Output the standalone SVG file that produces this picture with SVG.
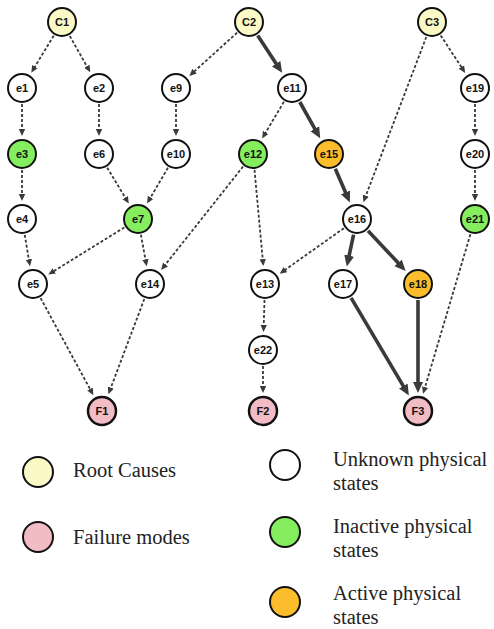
<svg xmlns="http://www.w3.org/2000/svg" width="494" height="629" viewBox="0 0 494 629">
<style>
.n circle{stroke:#111;stroke-width:2}
.n text{font-family:"Liberation Sans",Arial,sans-serif;font-weight:bold;font-size:11px;fill:#111;text-anchor:middle}
.root{fill:#fbf9c6}
.fail{fill:#f2bcc4}
.unk{fill:#fff}
.ina{fill:#85ee5e}
.act{fill:#fbbd2c}
.d{stroke:#3a3a3a;stroke-width:1.8;stroke-dasharray:3 2;fill:none;marker-end:url(#ad)}
.t{stroke:#3a3a3a;stroke-width:3.6;fill:none;marker-end:url(#at)}
.lg{font-family:"Liberation Serif","Times New Roman",serif;font-size:20.5px;fill:#222}
.lc{stroke:#111;stroke-width:2}
</style>
<defs>
<marker id="ad" markerUnits="userSpaceOnUse" markerWidth="10" markerHeight="10" viewBox="0 -5 10 10" refX="1" refY="0" orient="auto">
<path d="M0,-3.2 L7,0 L0,3.2 z" fill="#3a3a3a"/>
</marker>
<marker id="at" markerUnits="userSpaceOnUse" markerWidth="14" markerHeight="14" viewBox="0 -7 14 14" refX="1" refY="0" orient="auto">
<path d="M0,-5 L11,0 L0,5 z" fill="#3a3a3a"/>
</marker>
</defs>
<g id="connectors">
<line class="d" x1="53.7" y1="35.7" x2="34.4" y2="67.5"/>
<line class="d" x1="69.8" y1="36.0" x2="87.3" y2="67.1"/>
<line class="d" x1="237.1" y1="32.7" x2="193.8" y2="71.9"/>
<line class="t" x1="257.7" y1="35.4" x2="276.7" y2="64.5"/>
<line class="d" x1="426.3" y1="37.0" x2="365.5" y2="196.6"/>
<line class="d" x1="440.7" y1="35.4" x2="461.9" y2="67.9"/>
<line class="d" x1="22" y1="104" x2="22" y2="130"/>
<line class="d" x1="99" y1="104" x2="99" y2="130"/>
<line class="d" x1="176" y1="104" x2="176" y2="130"/>
<line class="d" x1="283.9" y1="101.8" x2="265.2" y2="133.3"/>
<line class="t" x1="299.8" y1="102.0" x2="315.3" y2="129.6"/>
<line class="d" x1="475" y1="104" x2="475" y2="130"/>
<line class="d" x1="22" y1="170" x2="22" y2="195"/>
<line class="d" x1="107.2" y1="167.7" x2="125.7" y2="198.4"/>
<line class="d" x1="167.9" y1="167.8" x2="150.1" y2="198.3"/>
<line class="d" x1="243.1" y1="166.5" x2="164.9" y2="265.2"/>
<line class="d" x1="254.5" y1="169.9" x2="262.8" y2="260.1"/>
<line class="t" x1="335.3" y1="168.7" x2="345.9" y2="193.3"/>
<line class="d" x1="475" y1="170" x2="475" y2="195"/>
<line class="d" x1="24.7" y1="234.8" x2="29.0" y2="260.3"/>
<line class="d" x1="124.4" y1="227.4" x2="53.4" y2="271.4"/>
<line class="d" x1="140.9" y1="234.7" x2="145.6" y2="260.4"/>
<line class="d" x1="343.9" y1="228.2" x2="284.6" y2="270.2"/>
<line class="t" x1="353.6" y1="234.6" x2="348.9" y2="256.6"/>
<line class="t" x1="368.0" y1="230.7" x2="398.8" y2="263.6"/>
<line class="d" x1="470.4" y1="234.3" x2="424.8" y2="388.0"/>
<line class="d" x1="40.6" y1="298.1" x2="90.5" y2="389.9"/>
<line class="d" x1="144.3" y1="299.0" x2="110.5" y2="388.6"/>
<line class="d" x1="264.5" y1="300.0" x2="263.7" y2="326.0"/>
<line class="d" x1="263" y1="366" x2="263" y2="387"/>
<line class="t" x1="351.1" y1="297.8" x2="403.8" y2="386.9"/>
<line class="t" x1="418" y1="300" x2="418" y2="383"/>
</g>
<g id="C1" class="n"><circle class="root" cx="62" cy="22" r="14"/><text x="62" y="26">C1</text></g>
<g id="C2" class="n"><circle class="root" cx="249" cy="22" r="14"/><text x="249" y="26">C2</text></g>
<g id="C3" class="n"><circle class="root" cx="432" cy="22" r="14"/><text x="432" y="26">C3</text></g>
<g id="e1" class="n"><circle class="unk" cx="22" cy="88" r="14"/><text x="22" y="92">e1</text></g>
<g id="e2" class="n"><circle class="unk" cx="99" cy="88" r="14"/><text x="99" y="92">e2</text></g>
<g id="e9" class="n"><circle class="unk" cx="176" cy="88" r="14"/><text x="176" y="92">e9</text></g>
<g id="e11" class="n"><circle class="unk" cx="292" cy="88" r="14"/><text x="292" y="92">e11</text></g>
<g id="e19" class="n"><circle class="unk" cx="475" cy="88" r="14"/><text x="475" y="92">e19</text></g>
<g id="e3" class="n"><circle class="ina" cx="22" cy="154" r="14"/><text x="22" y="158">e3</text></g>
<g id="e6" class="n"><circle class="unk" cx="99" cy="154" r="14"/><text x="99" y="158">e6</text></g>
<g id="e10" class="n"><circle class="unk" cx="176" cy="154" r="14"/><text x="176" y="158">e10</text></g>
<g id="e12" class="n"><circle class="ina" cx="253" cy="154" r="14"/><text x="253" y="158">e12</text></g>
<g id="e15" class="n"><circle class="act" cx="329" cy="154" r="14"/><text x="329" y="158">e15</text></g>
<g id="e20" class="n"><circle class="unk" cx="475" cy="154" r="14"/><text x="475" y="158">e20</text></g>
<g id="e4" class="n"><circle class="unk" cx="22" cy="219" r="14"/><text x="22" y="223">e4</text></g>
<g id="e7" class="n"><circle class="ina" cx="138" cy="219" r="14"/><text x="138" y="223">e7</text></g>
<g id="e16" class="n"><circle class="unk" cx="357" cy="219" r="14"/><text x="357" y="223">e16</text></g>
<g id="e21" class="n"><circle class="ina" cx="475" cy="219" r="14"/><text x="475" y="223">e21</text></g>
<g id="e5" class="n"><circle class="unk" cx="33" cy="284" r="14"/><text x="33" y="288">e5</text></g>
<g id="e14" class="n"><circle class="unk" cx="150" cy="284" r="14"/><text x="150" y="288">e14</text></g>
<g id="e13" class="n"><circle class="unk" cx="265" cy="284" r="14"/><text x="265" y="288">e13</text></g>
<g id="e17" class="n"><circle class="unk" cx="343" cy="284" r="14"/><text x="343" y="288">e17</text></g>
<g id="e18" class="n"><circle class="act" cx="418" cy="284" r="14"/><text x="418" y="288">e18</text></g>
<g id="e22" class="n"><circle class="unk" cx="263" cy="350" r="14"/><text x="263" y="354">e22</text></g>
<g id="F1" class="n"><circle class="fail" cx="102" cy="411" r="14" style="stroke-width:2.5"/><text x="102" y="415">F1</text></g>
<g id="F2" class="n"><circle class="fail" cx="263" cy="411" r="14" style="stroke-width:2.5"/><text x="263" y="415">F2</text></g>
<g id="F3" class="n"><circle class="fail" cx="418" cy="411" r="14" style="stroke-width:2.5"/><text x="418" y="415">F3</text></g>
<g id="legend">
<circle class="lc root" cx="38" cy="472" r="15"/>
<text class="lg" x="73" y="477">Root Causes</text>
<circle class="lc fail" cx="38" cy="537" r="15"/>
<text class="lg" x="73" y="544">Failure modes</text>
<circle class="lc unk" cx="285" cy="465" r="15"/>
<text class="lg" x="333" y="466">Unknown physical</text>
<text class="lg" x="333" y="490">states</text>
<circle class="lc ina" cx="285" cy="532" r="15"/>
<text class="lg" x="333" y="533">Inactive physical</text>
<text class="lg" x="333" y="557">states</text>
<circle class="lc act" cx="285" cy="602" r="15"/>
<text class="lg" x="333" y="600">Active physical</text>
<text class="lg" x="333" y="624">states</text>
</g>
</svg>
